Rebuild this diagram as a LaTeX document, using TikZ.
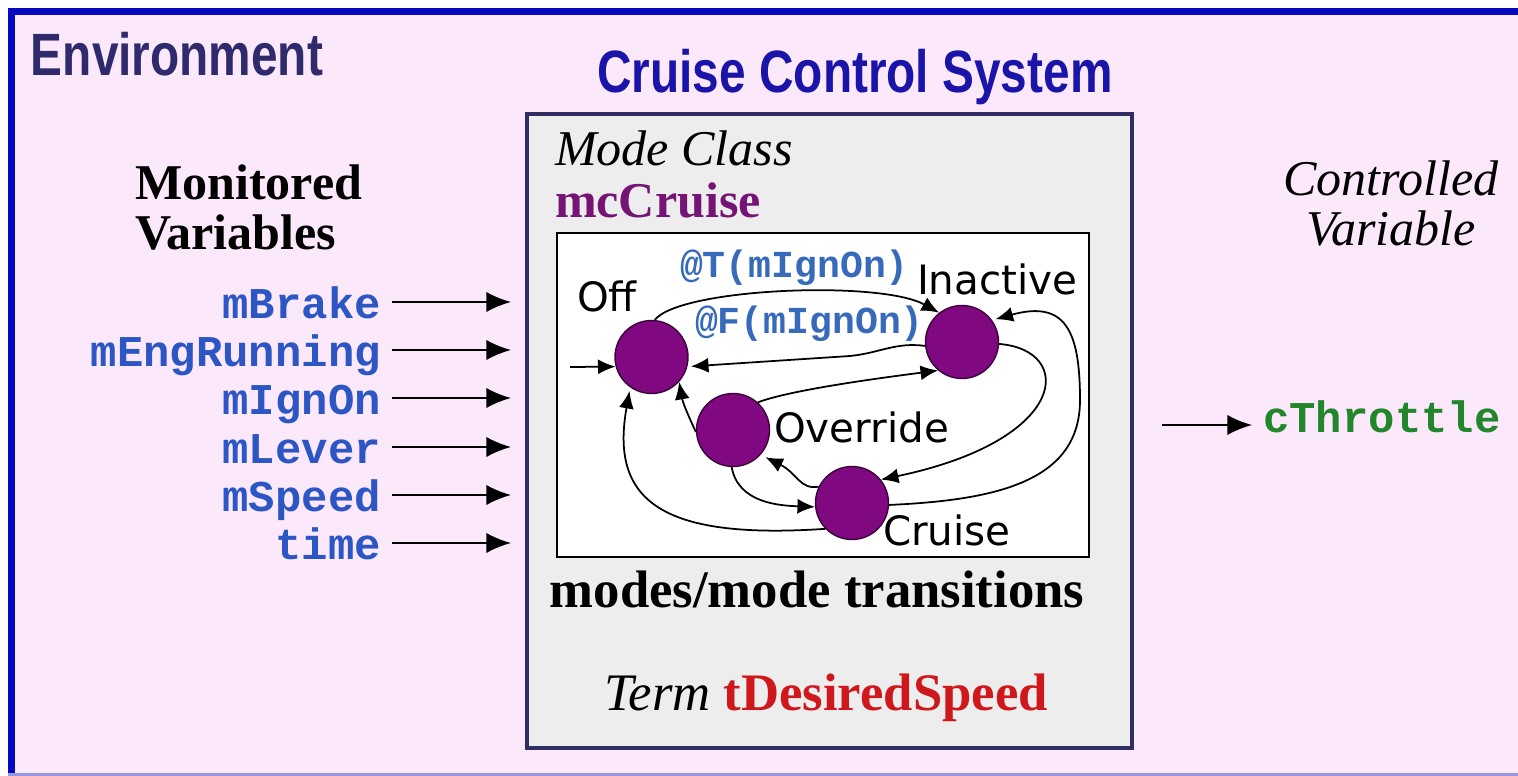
\documentclass[tikz,border=0pt]{standalone}
\usepackage{fontspec}
\setmainfont{Liberation Serif}
\newfontfamily\narrowsans[FakeStretch=0.8]{Liberation Sans}
\newfontfamily\courierfont{Liberation Mono}
\newfontfamily\comicfont{DejaVu Sans}
\usetikzlibrary{arrows.meta}

\definecolor{slidepink}{RGB}{251,233,251}
\definecolor{frameblue}{RGB}{8,8,190}
\definecolor{edgelav}{RGB}{150,150,220}
\definecolor{envnavy}{RGB}{46,42,108}
\definecolor{titleblue}{RGB}{26,20,168}
\definecolor{boxgray}{RGB}{237,237,237}
\definecolor{boxnavy}{RGB}{50,46,100}
\definecolor{varblue}{RGB}{44,86,196}
\definecolor{evblue}{RGB}{56,106,188}
\definecolor{modepurple}{RGB}{128,8,128}
\definecolor{mcpurple}{RGB}{118,20,118}
\definecolor{termred}{RGB}{206,24,28}
\definecolor{ctrlgreen}{RGB}{34,134,42}

\begin{document}
\begin{tikzpicture}[x=0.02cm, y=-0.02cm,
        txt/.style={inner sep=0pt, outer sep=0pt},
        bigsans/.style={txt, font=\narrowsans\bfseries\fontsize{34}{34}\selectfont},
        sidetext/.style={txt, font=\fontsize{28.5}{28.5}\selectfont},
        boxtext/.style={txt, font=\fontsize{30}{30}\selectfont},
        invar/.style={inner sep=0pt, inner xsep=6.2pt, font=\courierfont\bfseries\fontsize{25}{25}\selectfont, text=varblue},
        outvar/.style={invar, text=ctrlgreen},
        evlabel/.style={txt, font=\courierfont\bfseries\fontsize{21.7}{21.7}\selectfont, text=evblue},
        modelabel/.style={txt, font=\comicfont\fontsize{23}{23}\selectfont},
        modenode/.style={circle, fill=modepurple, draw=black!55!modepurple, line width=0.8pt, minimum size=1.46cm, inner sep=0pt},
        tr/.style={-{Latex[length=10pt,width=8.5pt]}, line width=1pt},
        flow/.style={-{Latex[length=14pt,width=11.5pt]}, line width=1.1pt}]
                \useasboundingbox (0,0) rectangle (1518,776);
                \fill[white] (0,0) rectangle (1518,776);
                \fill[slidepink] (8,8) rectangle (1518,776);
                \draw[frameblue, line width=4.5pt] (11.5,776) -- (11.5,11.5) -- (1518,11.5);
                \draw[edgelav, line width=1.2pt] (8,774.5) -- (1518,774.5);

                \node[bigsans, text=envnavy, anchor=base west] (env) at (31,76) {Environment};
                \node[bigsans, text=titleblue, anchor=base] (title) at (855,93) {Cruise Control System};

                \draw[boxnavy, fill=boxgray, line width=2.3pt] (527,114) rectangle (1132,748);
                \draw[black, fill=white, line width=1.2pt] (557,233) rectangle (1089,557);

                \node[sidetext, anchor=base west] (mclass) at (555,166) {\itshape Mode Class};
                \node[sidetext, anchor=base west, text=mcpurple] (mcname) at (555,218) {\bfseries mcCruise};
                \node[boxtext, anchor=base] (modes) at (817,607) {\bfseries modes/mode transitions};
                \node[boxtext, anchor=base] (term) at (826,710) {\itshape Term \upshape\bfseries\color{termred}tDesiredSpeed};

                \node[sidetext, anchor=north west, align=left] (monvar) at (135,165) {\textbf{Monitored}\\\textbf{Variables}};
                \node[sidetext, anchor=north, align=center] (ctrlvar) at (1391,161) {\textit{Controlled}\\\textit{Variable}};

                \foreach \vname/\ybase [count=\i] in {mBrake/319, mEngRunning/367, mIgnOn/415, mLever/464, mSpeed/512, time/560} {
                    \node[invar, anchor=base east] (var\i) at (392,\ybase) {\vname};
                    \coordinate (port\i) at (511,\ybase-17);
                    \draw[flow] (var\i.east |- port\i) -- (port\i);
                }

                \node[outvar, anchor=base west] (cthr) at (1252,433) {cThrottle};
                \coordinate (ctrlsrc) at (1162,425);
                \draw[flow] (ctrlsrc) -- (cthr.west |- ctrlsrc);

                \node[modenode] (off) at (651.5,357) {};
                \node[modenode] (inact) at (962,342) {};
                \node[modenode] (over) at (733,430) {};
                \node[modenode] (cruise) at (852,503) {};

                \node[modelabel, anchor=base west] (offlbl) at (577,312) {Off};
                \node[modelabel, anchor=base west] (inactlbl) at (917,295) {Inactive};
                \node[modelabel, anchor=base west] (overlbl) at (774,443) {Override};
                \node[modelabel, anchor=base west] (cruiselbl) at (883,545) {Cruise};

                \node[evlabel, anchor=base west] (evon) at (680,278) {@T(mIgnOn)};
                \node[evlabel, anchor=base west] (evoff) at (695,334) {@F(mIgnOn)};

                \coordinate (entry) at (570,367);
                \draw[tr] (entry) -- (off.195);
                \draw[tr] (off.85) .. controls (680,288) and (880,280) .. (inact.128);
                \draw[tr, shorten >=2pt] (inact.186) .. controls (895,342) and (880,353) .. (850,356) -- (off.-15);
                \draw[tr] (over.48) .. controls (790,390) and (880,378) .. (inact.-130);
                \draw[tr] (over.183) to[out=115,in=-80] (off.-42);
                \draw[tr] (over.-92) to[out=-80,in=178] (cruise.186);
                \draw[tr, shorten >=3pt] (cruise.154) .. controls (800,490) and (797,473) .. (over.-42);
                \draw[tr, shorten >=2pt] (cruise.-136) .. controls (660,540) and (610,500) .. (off.-125);
                \draw[tr] (inact.-3) .. controls (1075,350) and (1070,440) .. (cruise.39);
                \draw[tr, shorten >=2pt] (cruise.-3) .. controls (1000,500) and (1080,480) .. (1080,400) .. controls (1080,330) and (1065,300) .. (inact.36);
            \end{tikzpicture}
\end{document}
